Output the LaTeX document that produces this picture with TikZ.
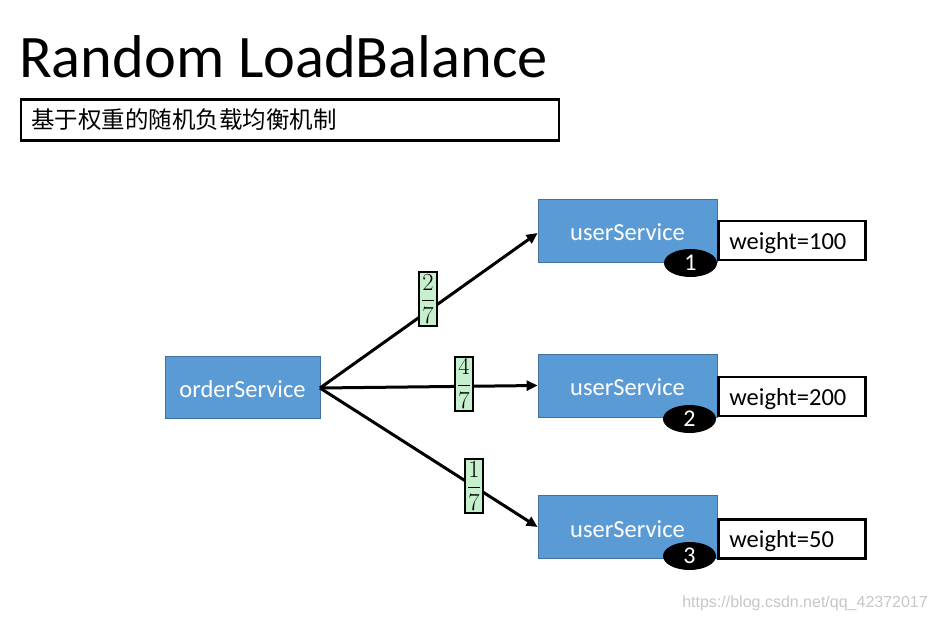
\RequirePackage{fix-cm}
\documentclass[tikz,border=0pt]{standalone}
\usepackage{fontspec}
\setmainfont{Carlito}
\newfontfamily\cjk{Noto Sans CJK SC}
\newfontfamily\wmfont{Liberation Sans}
\usetikzlibrary{shapes.geometric,arrows.meta}
\definecolor{svcblue}{HTML}{5B9BD5}
\definecolor{svcedge}{HTML}{41719C}
\definecolor{fracgreen}{HTML}{C6EFCE}
\tikzset{
  svc/.style={draw=svcedge, line width=0.8pt, fill=svcblue, text=white, minimum width=179pt, minimum height=63pt, inner sep=0pt, text height=20pt, text depth=0pt, font=\fontsize{24.5}{28}\selectfont},
  wbox/.style={draw=black, line width=2.8pt, fill=white, minimum width=147pt, minimum height=39pt, inner sep=0pt, anchor=west, text height=17pt, text depth=0pt, font=\fontsize{24.5}{28}\selectfont, text width=125pt, align=left},
  badge/.style={ellipse, fill=black, text=white, minimum width=53pt, minimum height=28pt, inner sep=0pt, font=\fontsize{24}{26}\selectfont},
  frac/.style={draw=black, line width=2pt, fill=fracgreen, minimum width=18pt, minimum height=54pt, inner sep=0pt, font=\fontsize{24.5}{28}\selectfont},
  conn/.style={line width=3pt, -{Triangle[length=11pt,width=10pt]}}
}
\begin{document}
\begin{tikzpicture}[x=1pt,y=-1pt]
\useasboundingbox[fill=white] (0,0) rectangle (936,621);
\node[anchor=base west, inner sep=0pt, font=\fontsize{60.4}{66}\selectfont] (title) at (19,77) {Random LoadBalance};
\node[draw=black, line width=2.8pt, minimum width=538pt, minimum height=41pt, inner sep=0pt] (sub) at (290,120) {};
\node[anchor=west, inner sep=0pt, font=\cjk\fontsize{23.5}{26}\selectfont] (subtext) at (31,120) {基于权重的随机负载均衡机制};

\node[svc, minimum width=155pt, minimum height=62pt] (order) at (242.5,387) {orderService};
\node[svc] (u1) at (627.5,230.5) {userService};
\node[svc] (u2) at (627.5,385.5) {userService};
\node[svc] (u3) at (627.5,527) {userService};

\node[wbox] (w1) at (717,240.5) {weight=100};
\node[wbox] (w2) at (717,396.5) {weight=200};
\node[wbox] (w3) at (717,539) {weight=50};

\node[badge] (b1) at (690.5,263) {1};
\node[badge] (b2) at (689.5,419) {2};
\node[badge] (b3) at (689.5,556) {3};

\coordinate (o) at (320,388);
\draw[conn] (o) -- (u1.west |- 0,233);
\draw[conn] (o) -- (u2.west);
\draw[conn] (o) -- (u3.west);

\node[frac] (f1) at (428,299) {$\displaystyle\frac{2}{7}$};
\node[frac] (f2) at (464,383.5) {$\displaystyle\frac{4}{7}$};
\node[frac] (f3) at (474,486) {$\displaystyle\frac{1}{7}$};

\node[anchor=east, inner sep=0pt, text=black!22, font=\wmfont\fontsize{16}{18}\selectfont] (wm) at (928,603) {https://blog.csdn.net/qq\_42372017};
\end{tikzpicture}
\end{document}
